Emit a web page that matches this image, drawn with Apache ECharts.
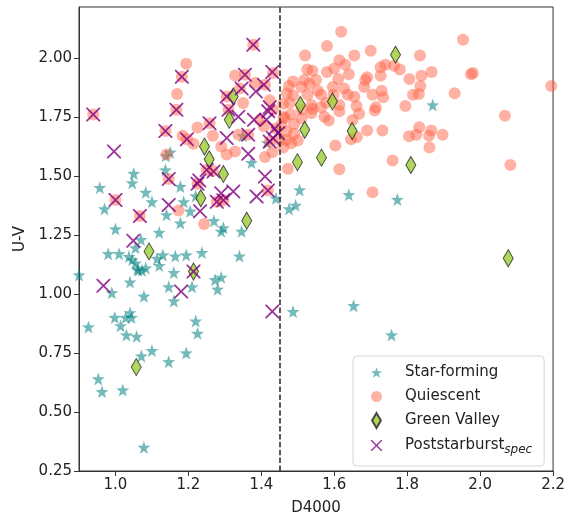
<!DOCTYPE html>
<html>
<head>
<meta charset="utf-8">
<script src="https://cdn.jsdelivr.net/npm/echarts@6/dist/echarts.min.js"></script>
<style>html,body{margin:0;padding:0;background:#fff;}#c{width:568px;height:521px;}</style>
</head>
<body>
<div id="c"></div>
<script>
// ---- data ([D4000, U-V]) ----
const starForming = [
  [0.90,1.08],[0.926,0.86],[0.953,0.64],[0.963,0.586],[0.957,1.45],[0.97,1.36],[0.98,1.17],[0.99,1.005],
  [0.998,0.90],[1.00,1.275],[1.01,1.17],[1.014,0.865],[1.02,0.593],[1.028,0.90],[1.03,0.826],[1.037,1.158],
  [1.04,0.92],[1.04,1.05],[1.044,0.90],[1.046,1.47],[1.046,1.145],[1.05,1.51],[1.055,1.195],[1.055,1.13],
  [1.058,0.82],[1.06,1.105],[1.063,1.10],[1.07,1.23],[1.071,0.737],[1.073,1.10],[1.078,0.35],[1.078,0.99],
  [1.083,1.43],[1.083,1.11],[1.10,1.39],[1.10,0.76],[1.114,1.15],[1.12,1.26],[1.12,1.12],[1.13,1.165],
  [1.137,1.525],[1.138,1.585],[1.14,1.335],[1.146,1.03],[1.146,0.713],[1.15,1.60],[1.16,1.09],[1.16,0.97],
  [1.164,1.16],[1.178,1.30],[1.178,1.455],[1.187,1.39],[1.194,1.165],[1.194,0.75],[1.205,1.35],[1.21,1.03],
  [1.22,1.415],[1.22,0.885],[1.225,0.833],[1.237,1.175],[1.27,1.31],[1.273,1.06],[1.28,1.02],[1.29,1.07],
  [1.29,1.265],[1.296,1.28],[1.34,1.16],[1.346,1.265],[1.349,1.67],[1.373,1.556],[1.416,1.64],[1.44,1.405],
  [1.476,1.36],[1.487,0.925],[1.494,1.375],[1.505,1.44],[1.64,1.42],[1.653,0.95],[1.757,0.826],[1.773,1.40],
  [1.87,1.80]
];
const quiescent = [
  [0.939,1.76],[1.00,1.398],[1.067,1.33],[1.137,1.69],[1.14,1.59],[1.146,1.487],[1.167,1.78],[1.169,1.847],
  [1.173,1.353],[1.182,1.92],[1.184,1.67],[1.194,1.975],[1.196,1.655],[1.214,1.636],[1.225,1.705],[1.225,1.466],
  [1.243,1.296],[1.25,1.525],[1.258,1.723],[1.267,1.67],[1.267,1.522],[1.278,1.39],[1.29,1.624],[1.296,1.397],
  [1.305,1.59],[1.305,1.836],[1.31,1.78],[1.328,1.603],[1.328,1.925],[1.337,1.674],[1.341,1.87],[1.35,1.808],
  [1.355,1.928],[1.364,1.674],[1.378,2.055],[1.382,1.893],[1.396,1.737],[1.407,1.71],[1.41,1.886],[1.418,1.438],
  [1.423,1.82],[1.423,1.645],[1.432,1.935],[1.432,1.78],[1.44,1.70],[1.45,1.652],[1.455,1.716],[1.464,1.745],
  [1.43,1.60],[1.41,1.58],
  [1.619,2.11],[1.953,2.076],[1.58,2.05],[1.52,2.01],[1.655,2.01],[1.70,2.03],[1.835,2.01],[1.614,1.99],
  [1.63,1.97],[1.526,1.95],[1.54,1.945],[1.58,1.94],[1.60,1.955],[1.64,1.93],[1.727,1.96],[1.74,1.97],
  [1.764,1.966],[1.78,1.95],[1.867,1.94],[1.975,1.93],[1.98,1.935],[1.487,1.90],[1.518,1.906],[1.532,1.89],
  [1.55,1.906],[1.611,1.91],[1.685,1.906],[1.69,1.918],[1.727,1.924],[1.806,1.91],[1.839,1.924],[1.476,1.88],
  [1.51,1.876],[1.555,1.86],[1.596,1.876],[1.627,1.87],[1.682,1.876],[1.836,1.88],[1.73,1.86],[1.487,1.84],
  [1.527,1.843],[1.564,1.843],[1.598,1.843],[1.637,1.843],[1.655,1.835],[1.705,1.843],[1.734,1.833],[1.816,1.843],
  [1.832,1.847],[1.93,1.85],[2.195,1.88],[1.46,1.805],[1.478,1.808],[1.537,1.80],[1.578,1.81],[1.614,1.80],
  [1.661,1.796],[1.714,1.79],[1.795,1.796],[1.461,1.75],[1.51,1.744],[1.537,1.765],[1.573,1.75],[1.585,1.734],
  [1.614,1.773],[1.65,1.736],[1.711,1.777],[2.068,1.754],[1.469,1.688],[1.49,1.678],[1.646,1.655],[1.662,1.664],
  [1.69,1.692],[1.732,1.692],[1.805,1.668],[1.825,1.674],[1.833,1.706],[1.86,1.67],[1.866,1.692],[1.897,1.674],
  [1.861,1.62],[1.603,1.628],[1.473,1.53],[1.614,1.528],[1.76,1.565],[2.083,1.546],[1.469,1.652],[1.482,1.638],
  [1.705,1.43],[1.564,1.79],[1.668,1.763],[1.54,1.783],[1.51,1.78],[1.47,1.85],[1.46,1.62],[1.49,1.72],
  [1.50,1.65],[1.48,1.76]
];
const greenValley = [
  [1.057,0.69],[1.092,1.18],[1.214,1.095],[1.234,1.405],[1.36,1.31],[1.296,1.508],[1.257,1.57],[1.244,1.624],
  [1.312,1.737],[1.323,1.836],[1.768,2.013],[1.507,1.80],[1.595,1.815],[1.519,1.695],[1.649,1.69],[1.499,1.558],
  [1.565,1.577],[1.81,1.546],[2.077,1.151]
];
const poststarburst = [
  [0.939,1.76],[0.967,1.035],[0.996,1.603],[1.00,1.398],[1.049,1.225],[1.067,1.33],[1.137,1.69],[1.146,1.487],
  [1.146,1.377],[1.167,1.78],[1.18,1.01],[1.182,1.92],[1.196,1.655],[1.214,1.095],[1.225,1.466],[1.23,1.48],
  [1.232,1.35],[1.25,1.525],[1.258,1.723],[1.269,1.518],[1.278,1.39],[1.29,1.426],[1.296,1.397],[1.305,1.66],
  [1.305,1.836],[1.31,1.78],[1.323,1.434],[1.337,1.75],[1.346,1.87],[1.355,1.928],[1.364,1.674],[1.364,1.593],
  [1.378,2.055],[1.38,1.737],[1.385,1.857],[1.387,1.413],[1.407,1.886],[1.41,1.497],[1.414,1.737],[1.418,1.438],
  [1.419,1.773],[1.423,1.79],[1.423,1.645],[1.43,1.94],[1.43,0.925],[1.432,1.66],[1.437,1.70],[1.446,1.68]
];
const seriesNames = ['Star-forming', 'Quiescent', 'Green Valley', 'Poststarburst'];
const xTicks = [1.0, 1.2, 1.4, 1.6, 1.8, 2.0, 2.2];
const yTicks = [0.25, 0.50, 0.75, 1.00, 1.25, 1.50, 1.75, 2.00];
const xRange = [0.9, 2.2];
const yRange = [0.25, 2.215];
const dividerD4000 = 1.45;

// ---- marker shapes ----
const STAR = 'path://M0,-10L2.35,-3.24L9.51,-3.09L3.8,1.24L5.88,8.09L0,4.2L-5.88,8.09L-3.8,1.24L-9.51,-3.09L-2.35,-3.24Z';
const CROSS = 'path://M0,0L0.9,0L5,4.1L9.1,0L10,0L10,0.9L5.9,5L10,9.1L10,10L9.1,10L5,5.9L0.9,10L0,10L0,9.1L4.1,5L0,0.9Z';
const DIAMOND = 'path://M5,0L10,8.5L5,17L0,8.5Z';
const FONT = 'DejaVu Sans';

const chart = echarts.init(document.getElementById('c'), null, {renderer: 'canvas'});
chart.setOption({
  animation: false,
  grid: {left: 79, right: 13, top: 7, bottom: 49, show: true, borderColor: '#333', borderWidth: 1, backgroundColor: '#fff'},
  xAxis: {
    type: 'value', min: xRange[0], max: xRange[1],
    name: 'D4000', nameLocation: 'middle', nameGap: 30,
    nameTextStyle: {fontFamily: FONT, fontSize: 15, color: '#222'},
    axisLine: {show: true, onZero: false, lineStyle: {color: '#333', width: 1}},
    axisTick: {show: true, length: 5, customValues: xTicks, lineStyle: {color: '#333'}},
    axisLabel: {customValues: xTicks, formatter: v => v.toFixed(1), fontFamily: FONT, fontSize: 15, color: '#222', margin: 7},
    splitLine: {show: false}
  },
  yAxis: {
    type: 'value', min: yRange[0], max: yRange[1],
    name: 'U-V', nameLocation: 'middle', nameGap: 47,
    nameTextStyle: {fontFamily: FONT, fontSize: 15, color: '#222'},
    axisLine: {show: true, onZero: false, lineStyle: {color: '#333', width: 1}},
    axisTick: {show: true, length: 5, customValues: yTicks, lineStyle: {color: '#333'}},
    axisLabel: {customValues: yTicks, formatter: v => v.toFixed(2), fontFamily: FONT, fontSize: 15, color: '#222', margin: 7},
    splitLine: {show: false}
  },
  legend: {
    orient: 'vertical', left: 353, top: 356,
    padding: [7, 12, 10, 18],
    itemWidth: 11, itemHeight: 15, itemGap: 5,
    symbolKeepAspect: true,
    borderColor: '#d5d5d5', borderWidth: 1, borderRadius: 4,
    backgroundColor: 'rgba(255,255,255,0.85)',
    textStyle: {
      fontFamily: FONT, fontSize: 15, color: '#222', padding: [0, 0, 0, 18], lineHeight: 19,
      rich: {sub: {fontFamily: FONT, fontSize: 12, fontStyle: 'italic', color: '#222', padding: [9, 0, 0, 0], lineHeight: 19}}
    },
    formatter: n => n === 'Poststarburst' ? 'Poststarburst{sub|spec}' : n,
    data: seriesNames
  },
  series: [
    {
      name: seriesNames[0], type: 'scatter', data: starForming,
      symbol: STAR, symbolSize: 13,
      itemStyle: {color: 'rgba(0,128,128,0.68)'},
      markLine: {
        silent: true, symbol: 'none', label: {show: false},
        lineStyle: {type: [5.5, 2.4], color: '#222', width: 1.5},
        data: [{xAxis: dividerD4000}]
      }
    },
    {
      name: seriesNames[1], type: 'scatter', data: quiescent,
      symbol: 'circle', symbolSize: 12,
      itemStyle: {color: 'rgba(255,99,71,0.62)'}
    },
    {
      name: seriesNames[2], type: 'scatter', data: greenValley,
      symbol: DIAMOND, symbolSize: [10, 17],
      itemStyle: {color: '#9acd32', borderColor: '#222', borderWidth: 1}
    },
    {
      name: seriesNames[3], type: 'scatter', data: poststarburst,
      symbol: CROSS, symbolSize: 14,
      itemStyle: {color: '#800080'}
    }
  ]
});
</script>
</body>
</html>
